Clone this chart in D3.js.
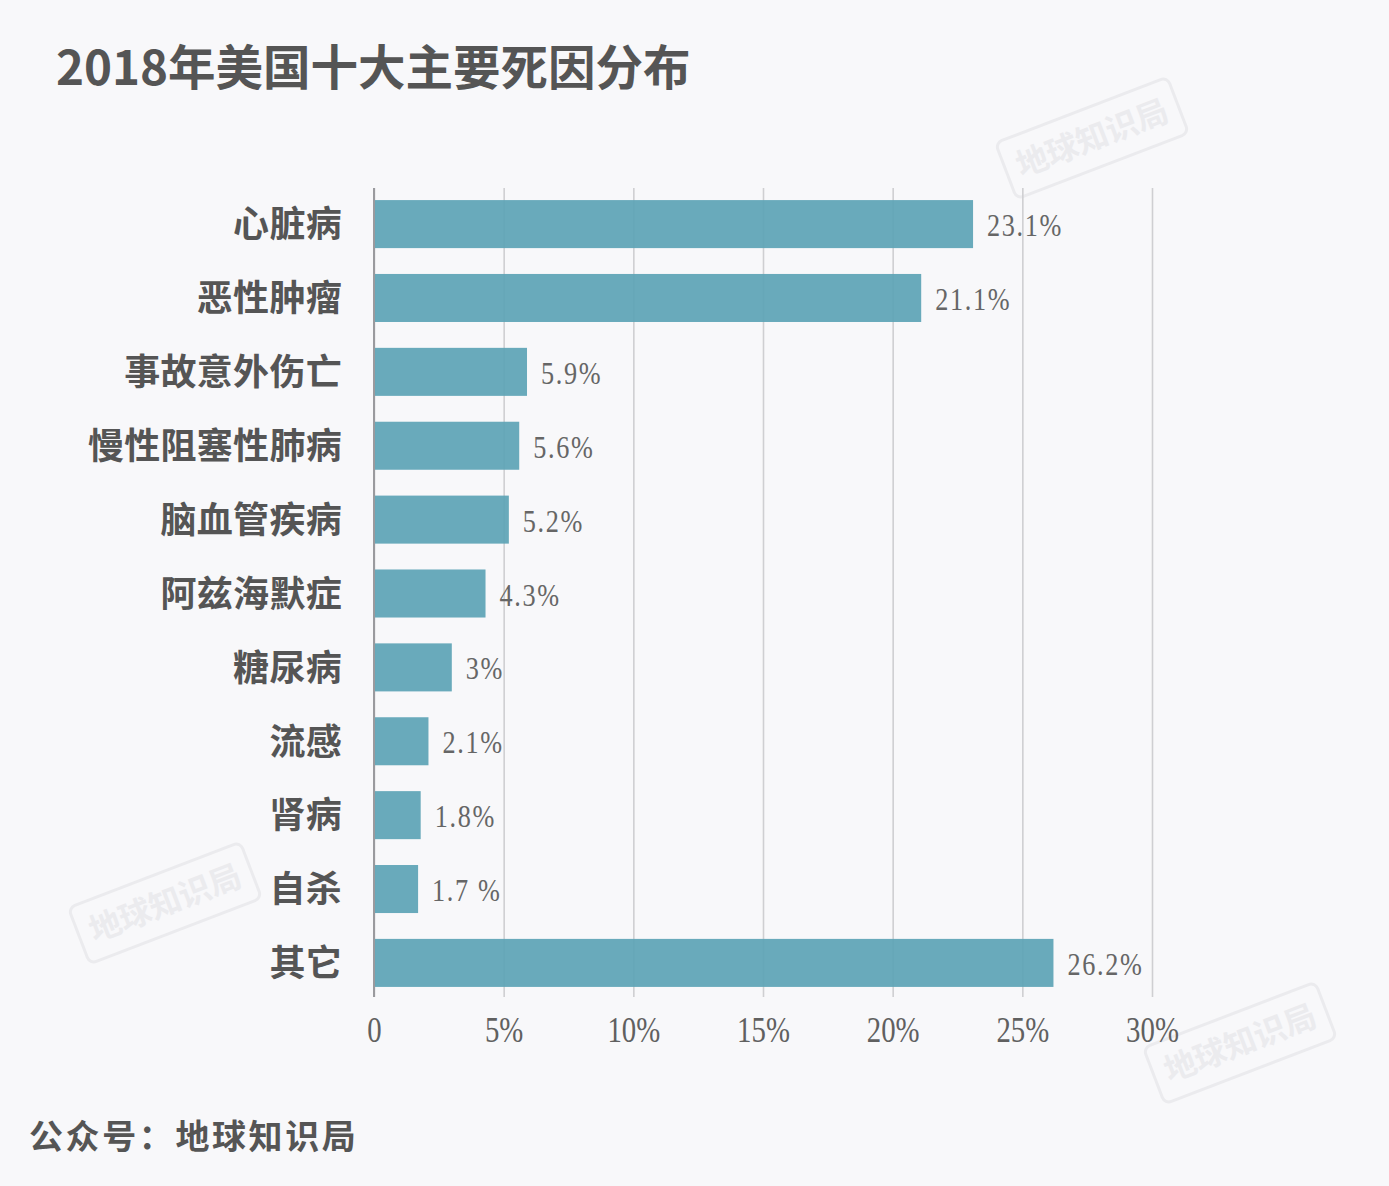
<!DOCTYPE html>
<html><head><meta charset="utf-8">
<script src="https://cdn.jsdelivr.net/npm/d3@7"></script>
<style>
html,body{margin:0;padding:0;background:#f8f8fa;}
svg{display:block;}
</style></head>
<body>
<script>
const categories = ["心脏病","恶性肿瘤","事故意外伤亡","慢性阻塞性肺病","脑血管疾病","阿兹海默症","糖尿病","流感","肾病","自杀","其它"];
const values = [23.1, 21.1, 5.9, 5.6, 5.2, 4.3, 3, 2.1, 1.8, 1.7, 26.2];
const valueLabels = ["23.1%","21.1%","5.9%","5.6%","5.2%","4.3%","3%","2.1%","1.8%","1.7 %","26.2%"];
const tickValues = [0, 5, 10, 15, 20, 25, 30];
const tickLabels = ["0","5%","10%","15%","20%","25%","30%"];
const titleText = "2018年美国十大主要死因分布";
const footerText = "公众号：地球知识局";
const watermarkText = "地球知识局";

const W = 1389, H = 1186;
const svg = d3.select("body").append("svg").attr("width", W).attr("height", H);
svg.append("rect").attr("width", W).attr("height", H).attr("fill", "#f8f8fa");

const cjk = "'Noto Sans CJK SC','Noto Sans',sans-serif";
const serif = "'Liberation Serif','DejaVu Serif',serif";

// watermarks
const wm = [[1092, 138], [165, 903], [1240, 1043]];
wm.forEach(([cx, cy]) => {
  const g = svg.append("g").attr("transform", `translate(${cx},${cy}) rotate(-21)`);
  g.append("rect").attr("x", -92).attr("y", -30).attr("width", 184).attr("height", 60)
    .attr("rx", 7).attr("fill", "none").attr("stroke", "#ebebee").attr("stroke-width", 3);
  g.append("text").attr("text-anchor", "middle").attr("dy", "0.36em")
    .attr("font-family", cjk).attr("font-weight", 700).attr("font-size", 32)
    .attr("fill", "#ebebee").text(watermarkText);
});

// title
svg.append("text").attr("x", 56).attr("y", 85)
  .attr("font-family", cjk).attr("font-weight", 700).attr("font-size", 47.5)
  .attr("fill", "#555").text(titleText);

const x = d3.scaleLinear().domain([0, 30]).range([374, 1152]);
const y = d3.scaleBand().domain(categories).range([189, 998]).paddingInner(0.35).paddingOuter(0.15);

// gridlines + tick labels
const axisG = svg.append("g").attr("transform", "translate(0,997)")
  .call(d3.axisBottom(x).tickValues(tickValues).tickFormat((d, i) => tickLabels[i]).tickSize(-809));
axisG.select(".domain").remove();
axisG.selectAll(".tick line").attr("stroke", "#cfcfd2").attr("stroke-width", 1.6);
axisG.selectAll(".tick text").attr("font-family", serif).attr("font-size", 36).attr("fill", "#606060")
  .attr("y", 0).attr("dy", 0).attr("transform", "translate(0,45) scale(0.8,1)");

// bars
svg.append("g").selectAll("rect").data(values).join("rect")
  .attr("x", x(0)).attr("y", (d, i) => y(categories[i]))
  .attr("width", d => x(d) - x(0)).attr("height", y.bandwidth())
  .attr("fill", "#5ea4b6").attr("fill-opacity", 0.93);

// zero axis line
svg.append("line").attr("x1", x(0)).attr("x2", x(0)).attr("y1", 188).attr("y2", 997)
  .attr("stroke", "#9a9a9e").attr("stroke-width", 2);

// value labels
svg.append("g").selectAll("text").data(values).join("text")
  .attr("transform", (d, i) => `translate(${x(d) + 14},${y(categories[i]) + y.bandwidth() / 2 + 12}) scale(0.82,1)`)
  .attr("font-family", serif).attr("font-size", 32).attr("fill", "#666")
  .attr("letter-spacing", 2)
  .text((d, i) => valueLabels[i]);

// category labels
svg.append("g").selectAll("text").data(categories).join("text")
  .attr("x", 342).attr("y", d => y(d) + y.bandwidth() / 2).attr("dy", "0.37em")
  .attr("text-anchor", "end").attr("font-family", cjk).attr("font-weight", 700)
  .attr("font-size", 36).attr("letter-spacing", 0.3).attr("fill", "#555").text(d => d);

// footer
svg.append("text").attr("x", 29).attr("y", 1149)
  .attr("font-family", cjk).attr("font-weight", 700).attr("font-size", 34)
  .attr("letter-spacing", 2.6).attr("fill", "#555").text(footerText);
</script>
</body></html>
